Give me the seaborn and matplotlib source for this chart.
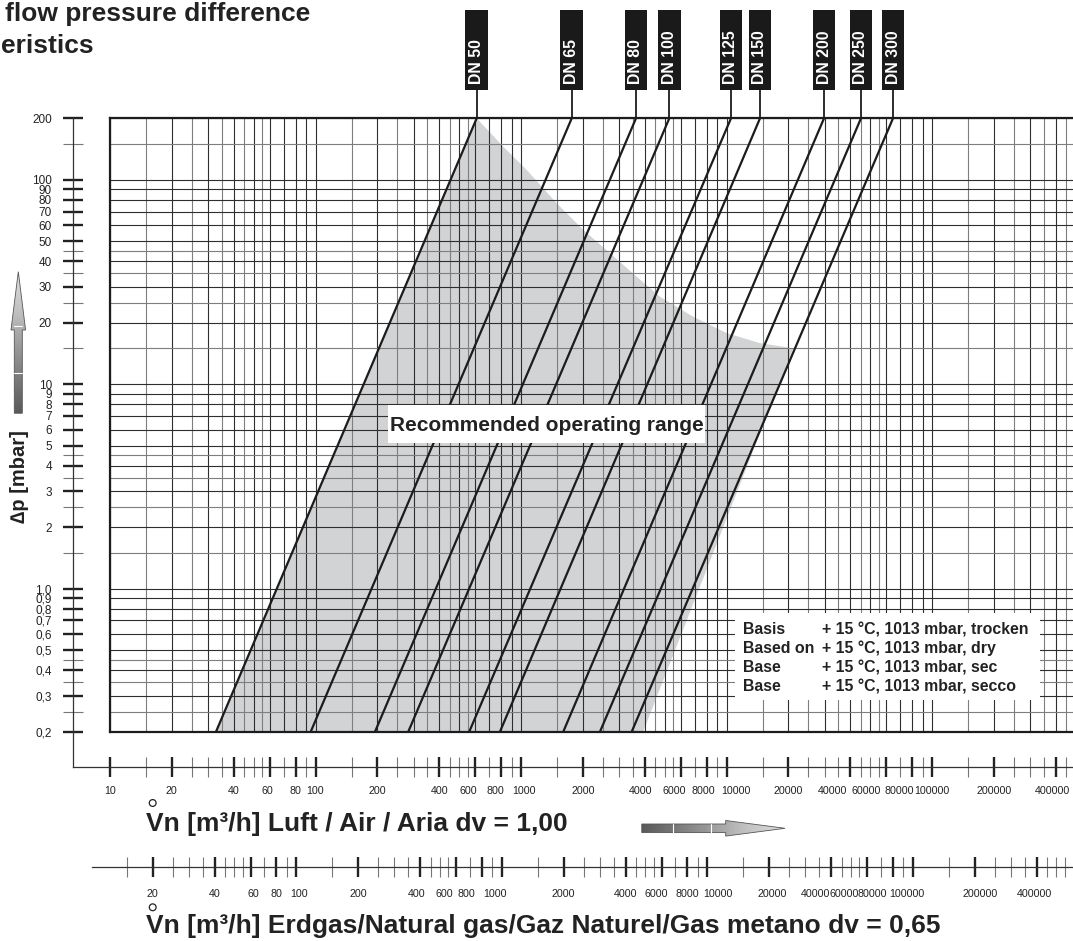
import numpy as np
import pandas as pd
import matplotlib
matplotlib.use("Agg")
import matplotlib.pyplot as plt
import matplotlib.ticker as mticker
from matplotlib.transforms import offset_copy
from matplotlib.patches import Rectangle, Polygon, Circle
import seaborn as sns

# ---------------- values ----------------
DN_NAMES = ["DN 50", "DN 65", "DN 80", "DN 100", "DN 125", "DN 150", "DN 200", "DN 250", "DN 300"]
# air flow [m3/h] where each valve line crosses 0,2 mbar and 200 mbar
FLOW_LOW = [32.8, 94.8, 194.8, 282.8, 560, 790, 1606, 2423, 3457]
FLOW_HIGH = [608.6, 1765, 3627, 5268, 10517, 14555, 29820, 45120, 64600]
DP_LOW, DP_HIGH = 0.2, 200

# recommended operating range: upper edge (flow, dp), right edge ends at 0,2 mbar
RANGE_FLOW = [608.6, 820, 1066, 1492, 2010, 2710, 3656, 4745, 6889, 10020, 14550, 21130]
RANGE_DP = [200, 145.3, 111.8, 76.8, 56.9, 43.8, 33.6, 26.8, 21.4, 17.8, 15.9, 15.0]
RANGE_FLOW_LOW_RIGHT = 3930

DV_GAS = 0.65

Y_TICKS = [200, 100, 90, 80, 70, 60, 50, 40, 30, 20, 10, 9, 8, 7, 6, 5, 4, 3, 2,
           1.0, 0.9, 0.8, 0.7, 0.6, 0.5, 0.4, 0.3, 0.2]
Y_LABELS = ["200", "100", "90", "80", "70", "60", "50", "40", "30", "20", "10", "9", "8", "7",
            "6", "5", "4", "3", "2", "1,0", "0,9", "0,8", "0,7", "0,6", "0,5", "0,4", "0,3", "0,2"]
Y_MINOR = [150, 45, 35, 25, 15, 4.5, 3.5, 2.5, 1.5, 0.45, 0.35, 0.25]

AIR_LABELS = [10, 20, 40, 60, 80, 100, 200, 400, 600, 800, 1000, 2000, 4000, 6000, 8000,
              10000, 20000, 40000, 60000, 80000, 100000, 200000, 400000]
GAS_LABELS = AIR_LABELS[1:]
SCALE_MINOR_MANT = [1.5, 2.5, 3, 3.5, 4.5, 5, 5.5, 7, 9]
DECADES = [10, 100, 1000, 10000, 100000]

# the printed labels are nudged sideways where they would collide (pixels)
AIR_LABEL_SHIFT = {60: -3, 600: -7, 800: -6, 1000: 3, 4000: -4, 6000: -7, 8000: -3,
                   10000: 9, 40000: -18, 60000: -20, 80000: -13, 400000: -3}
GAS_LABEL_SHIFT = {60: 3, 100: 3, 400: -3, 600: -12, 800: -15, 1000: -7, 6000: -5,
                   10000: 11, 20000: 3, 40000: -16, 60000: -23, 80000: -21, 100000: -6,
                   200000: 5, 400000: -2}

GRID_X_MINOR_MANT = [1.5, 2.5, 3.5, 4.5, 5.5]
GRID_Y_MINOR_MANT = [1.5, 2.5, 3.5, 4.5]

LEGEND_LEFT = ["Basis", "Based on", "Base", "Base"]
LEGEND_RIGHT = ["+ 15 °C, 1013 mbar, trocken", "+ 15 °C, 1013 mbar, dry",
                "+ 15 °C, 1013 mbar, sec", "+ 15 °C, 1013 mbar, secco"]

# ---------------- layout (pixels) ----------------
W, H = 1073, 941
PXD_X, PXD_Y = 205.5, 204.5
X10 = 110.0
Y_TOP, Y_BOT = 118.3, 731.7
INK = "#1c1c1c"
TXT = "#222222"


def flow_at(px):
    return 10 ** (1 + (px - X10) / PXD_X)


def fig_box(x0, y0, x1, y1):
    return [x0 / W, 1 - y1 / H, (x1 - x0) / W, (y1 - y0) / H]


def ax_frac(py):
    return (Y_BOT - py) / (Y_BOT - Y_TOP)


sns.set_style("white")
plt.rcParams["font.family"] = ["Liberation Sans", "DejaVu Sans"]

fig = plt.figure(figsize=(W / 100, H / 100), dpi=100, facecolor="white")

# ---------------- main chart ----------------
ax = fig.add_axes(fig_box(110, Y_TOP, 1073, Y_BOT))
ax.set_xscale("log")
ax.set_yscale("log")
ax.set_xlim(10, flow_at(1073))
ax.set_ylim(DP_LOW, DP_HIGH)

xg_major = [m * d for d in DECADES for m in range(1, 10)]
xg_minor = [m * d for d in DECADES for m in GRID_X_MINOR_MANT]
yg_major = [m * d for d in [0.1, 1, 10, 100] for m in range(1, 10)]
yg_minor = [m * d for d in [0.1, 1, 10, 100] for m in GRID_Y_MINOR_MANT]
ax.xaxis.set_major_locator(mticker.FixedLocator(xg_major))
ax.xaxis.set_minor_locator(mticker.FixedLocator(xg_minor))
ax.yaxis.set_major_locator(mticker.FixedLocator(yg_major))
ax.yaxis.set_minor_locator(mticker.FixedLocator(yg_minor))
ax.tick_params(which="both", length=0, labelbottom=False, labelleft=False)
ax.set_axisbelow("line")
ax.grid(which="major", color="#2e2e2e", lw=0.8)
ax.grid(which="minor", color="#7e7e7e", lw=0.8)

# shaded recommended range
poly_x = [FLOW_LOW[0]] + RANGE_FLOW + [RANGE_FLOW_LOW_RIGHT]
poly_y = [DP_LOW] + RANGE_DP + [DP_LOW]
ax.fill(poly_x, poly_y, color="#d2d3d5", lw=0, zorder=1)

lines = pd.DataFrame({
    "dn": DN_NAMES * 2,
    "flow": FLOW_LOW + FLOW_HIGH,
    "dp": [DP_LOW] * len(DN_NAMES) + [DP_HIGH] * len(DN_NAMES),
})
sns.lineplot(data=lines, x="flow", y="dp", hue="dn", hue_order=DN_NAMES,
             palette=[INK] * len(DN_NAMES), legend=False, lw=1.6, ax=ax, zorder=2)
ax.set_xlabel("")
ax.set_ylabel("")

for side in ["top", "left", "bottom"]:
    ax.spines[side].set_color(INK)
    ax.spines[side].set_linewidth(1.6)
ax.spines["right"].set_visible(False)

# DN tags above the chart
trans = ax.get_xaxis_transform()
half = 10 ** (11.4 / PXD_X)
for name, q in zip(DN_NAMES, FLOW_HIGH):
    ax.plot([q, q], [1.0, ax_frac(89)], transform=trans, clip_on=False, color=INK, lw=1.3)
    ax.add_patch(Rectangle((q / half, ax_frac(90)), q * half - q / half, ax_frac(10) - ax_frac(90),
                           transform=trans, clip_on=False, fc="#1a1a1a", ec="none"))
    ax.text(q, ax_frac(83.5), name, transform=trans, rotation=90, ha="center", va="bottom",
            color="white", fontsize=11.4, fontweight="bold", clip_on=False)

# ---------------- left pressure scale ----------------
ay = fig.add_axes(fig_box(73, Y_TOP, 74, 767))
ay.set_yscale("log")
ay.set_ylim(DP_LOW / 10 ** ((767 - Y_BOT) / PXD_Y), DP_HIGH)
ay.patch.set_visible(False)
for side in ["top", "right", "bottom"]:
    ay.spines[side].set_visible(False)
ay.spines["left"].set_color("#333333")
ay.spines["left"].set_linewidth(0.9)
ay.xaxis.set_visible(False)
ay.yaxis.set_major_locator(mticker.FixedLocator(Y_TICKS))
ay.yaxis.set_major_formatter(mticker.FixedFormatter(Y_LABELS))
ay.yaxis.set_minor_locator(mticker.FixedLocator(Y_MINOR))
ay.yaxis.set_minor_formatter(mticker.NullFormatter())
ay.tick_params(axis="y", which="major", left=True, direction="inout", length=14.4, width=1.7,
               color="#222222", pad=7.9, labelsize=8.5, labelcolor=TXT)
ay.tick_params(axis="y", which="minor", left=True, direction="inout", length=14.4, width=0.8,
               color="#777777")


# ---------------- flow scales ----------------
def flow_scale(box, lo, hi, labels, shifts, base_dy):
    a = fig.add_axes(box)
    a.set_xscale("log")
    a.set_xlim(lo, hi)
    a.patch.set_visible(False)
    for side in ["top", "right", "left"]:
        a.spines[side].set_visible(False)
    a.spines["bottom"].set_color("#333333")
    a.spines["bottom"].set_linewidth(0.9)
    a.yaxis.set_visible(False)
    minor = [m * d for d in DECADES for m in SCALE_MINOR_MANT if lo <= m * d <= hi]
    major = [v for v in labels if lo <= v <= hi]
    a.xaxis.set_major_locator(mticker.FixedLocator(major))
    a.xaxis.set_major_formatter(mticker.NullFormatter())
    a.xaxis.set_minor_locator(mticker.FixedLocator(minor))
    a.xaxis.set_minor_formatter(mticker.NullFormatter())
    a.tick_params(axis="x", which="major", bottom=True, direction="inout", length=15, width=1.7,
                  color="#222222")
    a.tick_params(axis="x", which="minor", bottom=True, direction="inout", length=15, width=0.8,
                  color="#777777")
    tr = a.get_xaxis_transform()
    for v in major:
        t = offset_copy(tr, fig=fig, x=shifts.get(v, 0), y=-base_dy, units="dots")
        a.text(v, 0, str(v), transform=t, ha="center", va="baseline", fontsize=7.7, color=TXT)
    return a


flow_scale(fig_box(73, 766, 1073, 767), flow_at(73), flow_at(1073), AIR_LABELS,
           AIR_LABEL_SHIFT, 26.5)
gas_k = 1 / np.sqrt(DV_GAS)
flow_scale(fig_box(92, 866, 1073, 867), flow_at(92) * gas_k, flow_at(1073) * gas_k, GAS_LABELS,
           GAS_LABEL_SHIFT, 30.3)

# ---------------- texts and decorations ----------------
ov = fig.add_axes([0, 0, 1, 1], zorder=10)
ov.axis("off")

ov.text(5, 20.7, "flow pressure difference", fontsize=19, fontweight="bold", va="baseline", color=TXT)
ov.text(0.5, 53.3, "eristics", fontsize=19, fontweight="bold", va="baseline", color=TXT)

ov.text(20, 477, "\u2206p [mbar]", rotation=90, ha="center", va="center", fontsize=14.5,
        fontweight="bold", color=TXT)

ov.add_patch(Rectangle((387.5, 405), 317.5, 37.7, fc="white", ec="none", zorder=3))
ov.text(546.7, 430.7, "Recommended operating range", ha="center", va="baseline", fontsize=15,
        fontweight="bold", color=TXT, zorder=4)

ov.add_patch(Rectangle((735, 613.3), 305, 86.7, fc="white", ec="none", zorder=3))
for i, (left, right) in enumerate(zip(LEGEND_LEFT, LEGEND_RIGHT)):
    yb = 634.3 + i * 18.9
    ov.text(743.3, yb, left, fontsize=11.4, fontweight="bold", va="baseline", color=TXT, zorder=4)
    ov.text(821.7, yb, right, fontsize=11.4, fontweight="bold", va="baseline", color=TXT, zorder=4)

ov.text(146, 831, "Vn [m³/h] Luft / Air / Aria dv = 1,00", fontsize=19, fontweight="bold",
        va="baseline", color=TXT)
ov.add_patch(Circle((152.7, 803), 3.4, fill=False, ec=TXT, lw=0.9))
ov.text(146, 932.5, "Vn [m³/h] Erdgas/Natural gas/Gaz Naturel/Gas metano dv = 0,65", fontsize=19,
        fontweight="bold", va="baseline", color=TXT)
ov.add_patch(Circle((152.7, 907.3), 3.4, fill=False, ec=TXT, lw=0.9))


def grad_arrow(verts, extent, img, seps):
    poly = Polygon(verts, closed=True, fc="none", ec="#555555", lw=0.6, zorder=6)
    ov.add_patch(poly)
    im = ov.imshow(img, cmap="Greys", vmin=0, vmax=1, extent=extent, aspect="auto",
                   interpolation="bilinear", zorder=5)
    im.set_clip_path(poly)
    for s in seps:
        ov.plot(*s, color="white", lw=0.8, zorder=7)


# horizontal arrow (towards larger flow)
cy = 828.3
grad_arrow([(641.7, cy - 4.3), (725.7, cy - 4.3), (725.7, cy - 7.8), (785, cy),
            (725.7, cy + 7.8), (725.7, cy + 4.3), (641.7, cy + 4.3)],
           (641.7, 785, cy + 7.8, cy - 7.8),
           np.linspace(0.72, 0.22, 256)[None, :],
           [([673.3, 673.3], [cy - 4.2, cy + 4.2]), ([710.7, 710.7], [cy - 4.2, cy + 4.2])])
# vertical arrow (towards larger pressure drop)
cx = 18.3
grad_arrow([(cx - 4, 413.3), (cx - 4, 330), (cx - 7.3, 330), (cx, 271.7), (cx + 7.3, 330),
            (cx + 4, 330), (cx + 4, 413.3)],
           (cx - 7.3, cx + 7.3, 413.3, 271.7),
           np.linspace(0.22, 0.72, 256)[:, None],
           [([cx - 3.9, cx + 3.9], [326, 326]), ([cx - 3.9, cx + 3.9], [372.7, 372.7])])

ov.set_xlim(0, W)
ov.set_ylim(H, 0)

fig.savefig("out.png", dpi=100, facecolor="white")
